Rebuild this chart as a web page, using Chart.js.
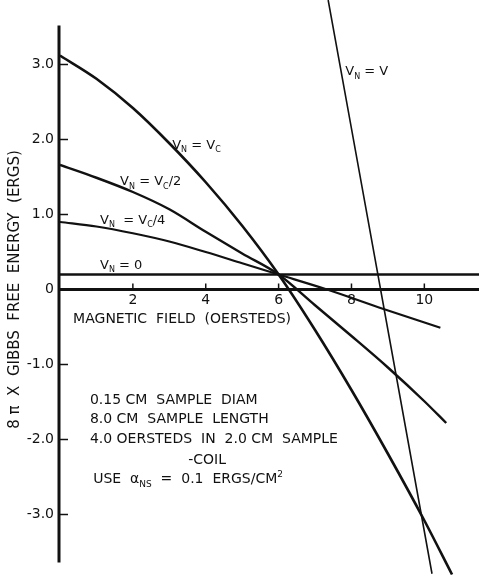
<!DOCTYPE html>
<html lang="en">
<head>
<meta charset="UTF-8">
<title>Gibbs Free Energy vs Magnetic Field</title>
<script src="https://cdn.jsdelivr.net/npm/chart.js"></script>
<style>
  body { margin: 0; background: #fff; }
  canvas { display: block; }
</style>
</head>
<body>
<canvas id="chart" width="479" height="579"></canvas>
<script>
// values: [field (oersteds), 8π x G (ergs)]
const vnVc = [[0, 3.12], [1, 2.81], [2, 2.42], [3, 1.95], [4, 1.43], [5, 0.85], [6, 0.2],
  [7, -0.54], [8, -1.34], [9, -2.19], [10, -3.08], [10.76, -3.8]];
const vnVcHalf = [[0, 1.66], [1, 1.49], [2, 1.3], [3, 1.07], [4, 0.77], [5, 0.48], [6, 0.2],
  [7, -0.21], [8, -0.62], [9, -1.04], [10, -1.49], [10.6, -1.78]];
const vnVcQuarter = [[0, 0.9], [1, 0.84], [2, 0.75], [3, 0.64], [4, 0.5], [5, 0.35], [6, 0.2],
  [7.33, 0], [8.88, -0.26], [10.44, -0.51]];
const vnZero = [[0, 0.2], [11.5, 0.2]];
const vnV = [[7.36, 3.86], [9.25, -1.21], [10.21, -3.79]];

const xTicks = [2, 4, 6, 8, 10];
const yTicks = [3, 2, 1, 0, -1, -2, -3];
const notes = [
  '0.15 CM  SAMPLE  DIAM',
  '8.0 CM  SAMPLE  LENGTH',
  '4.0 OERSTEDS  IN  2.0 CM  SAMPLE',
  '-COIL'
];

const ink = '#111';
const FONT = '"DejaVu Sans", sans-serif';

function pts(arr) { return arr.map(p => ({ x: p[0], y: p[1] })); }

function line(label, arr, width) {
  return {
    label: label,
    data: pts(arr),
    borderColor: ink,
    borderWidth: width,
    pointRadius: 0,
    fill: false,
    cubicInterpolationMode: 'monotone'
  };
}

// draw text made of pieces, some of them subscript / superscript
function richText(ctx, x, y, parts, size) {
  let cx = x;
  parts.forEach(p => {
    const s = p[1] ? Math.round(size * 0.62) : size;
    const dy = p[1] === 'sub' ? size * 0.28 : (p[1] === 'sup' ? -size * 0.45 : 0);
    ctx.font = s + 'px ' + FONT;
    ctx.fillText(p[0], cx, y + dy);
    cx += ctx.measureText(p[0]).width;
  });
}

const decorations = {
  id: 'decorations',
  afterDatasetsDraw(chart) {
    const ctx = chart.ctx;
    const xs = chart.scales.x, ys = chart.scales.y;
    const X = v => xs.getPixelForValue(v), Y = v => ys.getPixelForValue(v);
    ctx.save();
    ctx.strokeStyle = ink;
    ctx.fillStyle = ink;

    // vertical axis
    ctx.lineWidth = 3;
    ctx.beginPath();
    ctx.moveTo(X(0) - 1, Y(3.52));
    ctx.lineTo(X(0) - 1, Y(-3.64));
    ctx.stroke();

    // inside tick marks
    ctx.lineWidth = 1.5;
    yTicks.filter(v => v !== 0).forEach(v => {
      ctx.beginPath();
      ctx.moveTo(X(0), Y(v));
      ctx.lineTo(X(0) + 8, Y(v));
      ctx.stroke();
    });
    xTicks.forEach(v => {
      ctx.beginPath();
      ctx.moveTo(X(v), Y(0));
      ctx.lineTo(X(v), Y(0) - 6);
      ctx.stroke();
    });

    ctx.textAlign = 'left';
    ctx.textBaseline = 'alphabetic';
    // curve labels
    richText(ctx, X(3.08), Y(1.88), [['V'], ['N', 'sub'], [' = V'], ['C', 'sub']], 13);
    richText(ctx, X(1.65), Y(1.39), [['V'], ['N', 'sub'], [' = V'], ['C', 'sub'], ['/2']], 13);
    richText(ctx, X(1.1), Y(0.88), [['V'], ['N', 'sub'], ['  = V'], ['C', 'sub'], ['/4']], 13);
    richText(ctx, X(1.1), Y(0.28), [['V'], ['N', 'sub'], [' = 0']], 13);
    richText(ctx, X(7.83), Y(2.86), [['V'], ['N', 'sub'], [' = V']], 13);

    // axis title under the field axis
    ctx.font = '14px ' + FONT;
    ctx.fillText('MAGNETIC  FIELD  (OERSTEDS)', X(0.36), Y(-0.44));

    // notes
    ctx.font = '14px ' + FONT;
    ctx.fillText(notes[0], X(0.82), Y(-1.52));
    ctx.fillText(notes[1], X(0.82), Y(-1.78));
    ctx.fillText(notes[2], X(0.82), Y(-2.05));
    ctx.fillText(notes[3], X(3.52), Y(-2.32));
    richText(ctx, X(0.91), Y(-2.58), [['USE  α'], ['NS', 'sub'], ['  =  0.1  ERGS/CM'], ['2', 'sup']], 14);
    ctx.restore();
  }
};

new Chart(document.getElementById('chart'), {
  type: 'line',
  data: {
    datasets: [
      line('VN = VC', vnVc, 2.6),
      line('VN = VC/2', vnVcHalf, 2.4),
      line('VN = VC/4', vnVcQuarter, 2.2),
      line('VN = 0', vnZero, 2.4),
      line('VN = V', vnV, 1.6)
    ]
  },
  options: {
    responsive: false,
    animation: false,
    layout: { padding: 0 },
    plugins: {
      legend: { display: false },
      tooltip: { enabled: false }
    },
    scales: {
      x: {
        type: 'linear',
        min: 0,
        max: 11.5,
        position: { y: 0 },
        afterBuildTicks: s => { s.ticks = xTicks.map(v => ({ value: v })); },
        afterFit: s => { s.paddingLeft = 0; s.paddingRight = 0; },
        ticks: {
          color: ink,
          font: { family: FONT, size: 14 },
          padding: 2,
          maxRotation: 0
        },
        grid: { display: false, drawTicks: false },
        border: { display: true, color: ink, width: 3 }
      },
      y: {
        type: 'linear',
        min: -3.86,
        max: 3.86,
        afterBuildTicks: s => { s.ticks = yTicks.map(v => ({ value: v })); },
        afterFit: s => { s.width = 60; s.paddingTop = 0; s.paddingBottom = 0; },
        ticks: {
          color: ink,
          font: { family: FONT, size: 14 },
          padding: 6,
          callback: v => v === 0 ? '0' : v.toFixed(1)
        },
        grid: { display: false, drawTicks: false },
        border: { display: false },
        title: {
          display: true,
          text: '8 \u03c0  X  GIBBS  FREE  ENERGY  (ERGS)',
          color: ink,
          font: { family: FONT, size: 15 },
          padding: { top: 6, bottom: 0 }
        }
      }
    }
  },
  plugins: [decorations]
});
</script>
</body>
</html>
